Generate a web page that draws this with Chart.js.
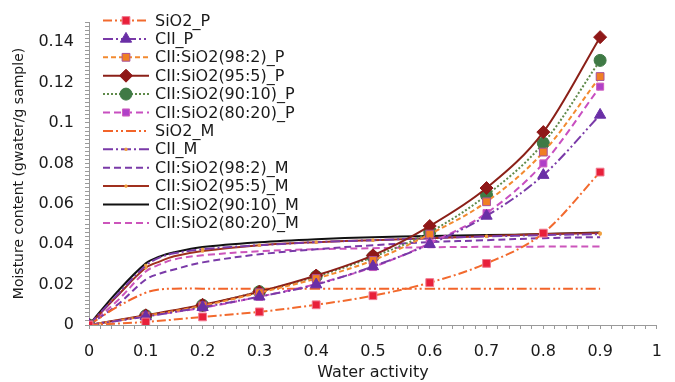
<!DOCTYPE html>
<html>
<head>
<meta charset="utf-8">
<script src="https://cdn.jsdelivr.net/npm/chart.js@4.4.1/dist/chart.umd.min.js"></script>
<style>
  html, body { margin: 0; padding: 0; background: #fff; }
  #wrap { width: 675px; height: 382px; }
</style>
</head>
<body>
<div id="wrap"><canvas id="myChart" width="675" height="382"></canvas></div>
<script>
'use strict';

// measured points (water activity)
let pointAw = [0, 0.1, 0.2, 0.3, 0.4, 0.5, 0.6, 0.7, 0.8, 0.9];
// model curves are read at a finer step near the knee
let modelAw = [0, 0.05, 0.1, 0.125, 0.15, 0.2, 0.3, 0.4, 0.5, 0.6, 0.7, 0.8, 0.9];

// experimental series (_P)
let sio2P = [0, 0.0015, 0.004, 0.0065, 0.010, 0.0145, 0.021, 0.0305, 0.0455, 0.0757];
let ciiP = [0, 0.0042, 0.0088, 0.014, 0.020, 0.029, 0.040, 0.054, 0.0742, 0.104];
let mix98P = [0, 0.0045, 0.0095, 0.016, 0.023, 0.032, 0.045, 0.061, 0.0856, 0.123];
let mix95P = [0, 0.0048, 0.010, 0.0165, 0.0245, 0.0345, 0.049, 0.0678, 0.0955, 0.1425];
let mix90P = [0, 0.0046, 0.0098, 0.0165, 0.024, 0.0337, 0.046, 0.0643, 0.090, 0.131];
let mix80P = [0, 0.0044, 0.0085, 0.014, 0.0203, 0.0287, 0.0405, 0.0554, 0.080, 0.118];

// model series (_M)
let sio2M = [0, 0.009, 0.0160, 0.0176, 0.018, 0.018, 0.018, 0.018, 0.018, 0.018, 0.018, 0.018, 0.018];
let ciiM = [0, 0.015, 0.0295, 0.0335, 0.0355, 0.0375, 0.0395, 0.041, 0.042, 0.043, 0.0438, 0.0445, 0.045];
let mix98M = [0, 0.010, 0.0225, 0.0255, 0.0275, 0.031, 0.035, 0.0375, 0.0395, 0.041, 0.042, 0.043, 0.0435];
let mix95M = [0, 0.0145, 0.0283, 0.0315, 0.034, 0.0366, 0.0395, 0.041, 0.042, 0.043, 0.044, 0.045, 0.0455];
let mix90M = [0, 0.0165, 0.0305, 0.034, 0.036, 0.0386, 0.041, 0.0425, 0.0435, 0.044, 0.0445, 0.045, 0.0458];
let mix80M = [0, 0.012, 0.0265, 0.030, 0.0325, 0.0345, 0.0365, 0.0375, 0.038, 0.0385, 0.0387, 0.0388, 0.0388];

// tick labels
let xTicks = [0, 0.1, 0.2, 0.3, 0.4, 0.5, 0.6, 0.7, 0.8, 0.9, 1];
let xTickLabels = ['0', '0.1', '0.2', '0.3', '0.4', '0.5', '0.6', '0.7', '0.8', '0.9', '1'];
let yTicks = [0, 0.02, 0.04, 0.06, 0.08, 0.1, 0.12, 0.14];
let yTickLabels = ['0', '0.02', '0.04', '0.06', '0.08', '0.1', '0.12', '0.14'];

let seriesNames = [
  'SiO2_P', 'CII_P', 'CII:SiO2(98:2)_P', 'CII:SiO2(95:5)_P', 'CII:SiO2(90:10)_P', 'CII:SiO2(80:20)_P',
  'SiO2_M', 'CII_M', 'CII:SiO2(98:2)_M', 'CII:SiO2(95:5)_M', 'CII:SiO2(90:10)_M', 'CII:SiO2(80:20)_M'
];
let seriesValues = [sio2P, ciiP, mix98P, mix95P, mix90P, mix80P, sio2M, ciiM, mix98M, mix95M, mix90M, mix80M];

// looks for each series
let styles = [
  { line: '#f26a2e', dash: [9, 3, 2, 3], point: 'rect', radius: 5.5, fill: '#e8203a', stroke: '#f07a90' },
  { line: '#7a3aa8', dash: [10, 3, 2, 3, 2, 3], point: 'triangle', radius: 6.5, fill: '#6a2fa6', stroke: '#6a2fa6' },
  { line: '#f28a30', dash: [5, 3], point: 'rect', radius: 5.5, fill: '#f07f24', stroke: '#a8509a' },
  { line: '#8b2018', dash: [], point: 'rectRot', radius: 6.5, fill: '#8f1818', stroke: '#8f1818' },
  { line: '#5f8a4a', dash: [2, 2], point: 'circle', radius: 6, fill: '#3f7a45', stroke: '#3f7a45' },
  { line: '#c84fc0', dash: [7, 4], point: 'rect', radius: 5, fill: '#b040c8', stroke: '#d060c0' },
  { line: '#f2642a', dash: [10, 3, 2, 3, 2, 3], point: false },
  { line: '#7a3aa8', dash: [10, 3, 2, 3], point: 'rect', radius: 1.5, fill: '#f0a040', stroke: '#f0a040', small: true },
  { line: '#7a3aa8', dash: [7, 4], point: false },
  { line: '#a0301e', dash: [], point: 'rect', radius: 1.5, fill: '#f0a040', stroke: '#f0a040', small: true },
  { line: '#111111', dash: [], point: false },
  { line: '#cc55bb', dash: [7, 4], point: false }
];

let datasets = [];
for (let i = 0; i < seriesNames.length; i++) {
  let isModel = i >= 6;
  let xs = isModel ? modelAw : pointAw;
  let st = styles[i];
  let pts = [];
  for (let j = 0; j < xs.length; j++) {
    pts.push({ x: xs[j], y: seriesValues[i][j] });
  }
  datasets.push({
    label: seriesNames[i],
    data: pts,
    borderColor: st.line,
    borderWidth: 2,
    borderDash: st.dash,
    backgroundColor: st.fill || st.line,
    pointStyle: st.point || 'circle',
    pointRadius: function (c) {
      if (!st.point) return 0;
      if (st.small) {
        let x = c.raw ? c.raw.x : 0;
        let k = x * 10;
        return (x > 0 && Math.abs(k - Math.round(k)) < 1e-6) ? st.radius : 0;
      }
      return st.radius;
    },
    pointBackgroundColor: st.fill,
    pointBorderColor: st.stroke,
    pointBorderWidth: 1,
    cubicInterpolationMode: isModel ? 'default' : 'monotone',
    tension: isModel ? 0.35 : 0.4,
    fill: false
  });
}

function labelFor(v, ticks, labels) {
  for (let i = 0; i < ticks.length; i++) {
    if (Math.abs(v - ticks[i]) < 1e-7) return labels[i];
  }
  return '';
}

// legend drawn inside the plot: line sample + marker, then the name
let insideLegend = {
  id: 'insideLegend',
  afterDraw(chart) {
    let ctx = chart.ctx;
    let x0 = 103, x1 = 149, top = 20.5, rowH = 18.4;
    ctx.save();
    for (let i = 0; i < datasets.length; i++) {
      let st = styles[i];
      let y = top + i * rowH;
      ctx.beginPath();
      ctx.setLineDash(st.dash);
      ctx.strokeStyle = st.line;
      ctx.lineWidth = 2;
      ctx.moveTo(x0, y);
      ctx.lineTo(x1, y);
      ctx.stroke();
      ctx.setLineDash([]);
      if (st.point) {
        ctx.fillStyle = st.fill;
        ctx.strokeStyle = st.stroke;
        ctx.lineWidth = 1;
        Chart.helpers.drawPoint(ctx, { pointStyle: st.point, radius: st.radius, borderWidth: 1, rotation: 0 }, (x0 + x1) / 2, y);
      }
      ctx.fillStyle = '#1a1a1a';
      ctx.font = '16px "DejaVu Sans"';
      ctx.textBaseline = 'middle';
      ctx.textAlign = 'left';
      ctx.fillText(seriesNames[i], 155, y + 1);
    }
    ctx.restore();
  }
};

let ctx = document.getElementById('myChart').getContext('2d');

new Chart(ctx, {
  type: 'line',
  data: { datasets: datasets },
  plugins: [insideLegend],
  options: {
    responsive: false,
    animation: false,
    layout: { padding: { top: 22, right: 17, bottom: 0, left: 0 } },
    plugins: {
      legend: { display: false },
      tooltip: { enabled: false }
    },
    scales: {
      x: {
        type: 'linear',
        min: 0,
        max: 1,
        afterFit(scale) { scale.height = 57; },
        border: { color: '#9a9a9a', width: 1 },
        grid: { drawOnChartArea: false, tickLength: 4, color: '#9a9a9a' },
        ticks: {
          stepSize: 0.02,
          autoSkip: false,
          maxRotation: 0,
          padding: 13,
          color: '#1a1a1a',
          font: { family: 'DejaVu Sans', size: 16 },
          callback: function (v) { return labelFor(v, xTicks, xTickLabels); }
        },
        title: {
          display: true,
          text: 'Water activity',
          color: '#1a1a1a',
          font: { family: 'DejaVu Sans', size: 16 },
          padding: { top: 0, bottom: 0 }
        }
      },
      y: {
        type: 'linear',
        min: 0,
        max: 0.15,
        afterFit(scale) { scale.width = 89; },
        border: { color: '#9a9a9a', width: 1 },
        grid: { drawOnChartArea: false, tickLength: 4, color: '#9a9a9a' },
        ticks: {
          stepSize: 0.002,
          autoSkip: false,
          padding: 11,
          color: '#1a1a1a',
          font: { family: 'DejaVu Sans', size: 16 },
          callback: function (v) { return labelFor(v, yTicks, yTickLabels); }
        },
        title: {
          display: true,
          text: 'Moisture content (gwater/g sample)',
          color: '#1a1a1a',
          font: { family: 'DejaVu Sans', size: 14 },
          padding: { top: 11, bottom: 0 }
        }
      }
    }
  }
});
</script>
</body>
</html>
